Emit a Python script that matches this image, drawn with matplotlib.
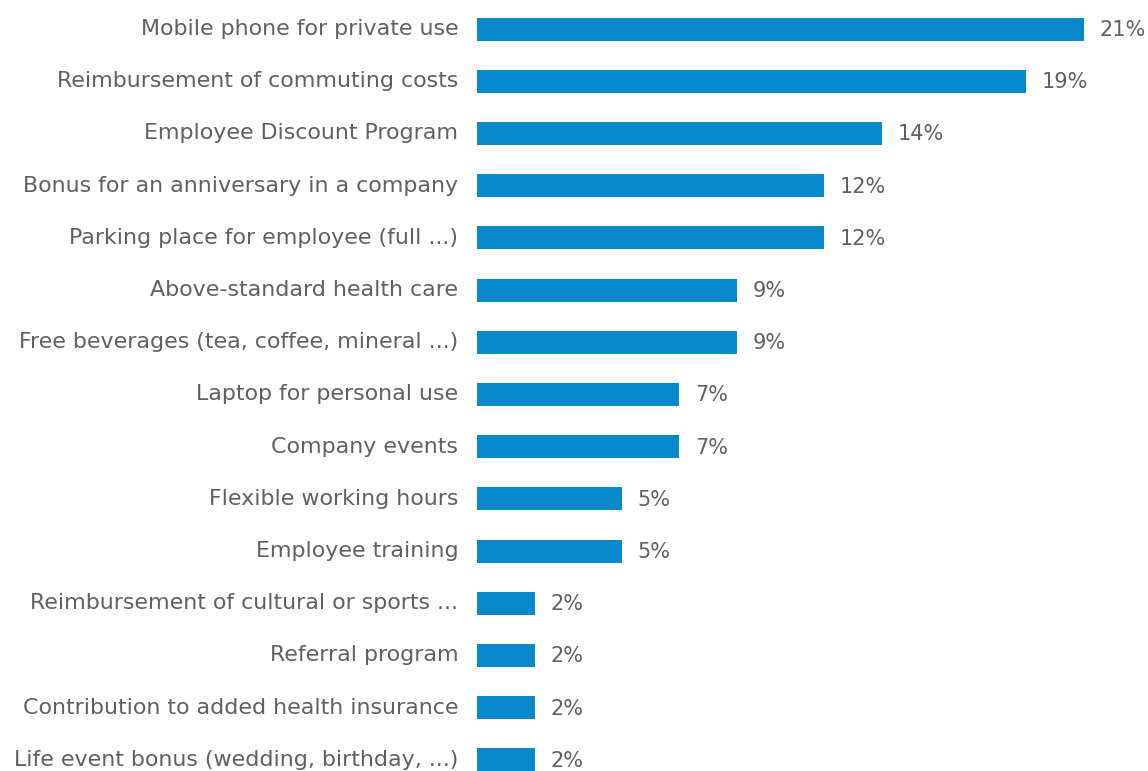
import matplotlib
matplotlib.use("Agg")
import matplotlib.pyplot as plt
import numpy as np

categories = [
    "Mobile phone for private use",
    "Reimbursement of commuting costs",
    "Employee Discount Program",
    "Bonus for an anniversary in a company",
    "Parking place for employee (full ...)",
    "Above-standard health care",
    "Free beverages (tea, coffee, mineral ...)",
    "Laptop for personal use",
    "Company events",
    "Flexible working hours",
    "Employee training",
    "Reimbursement of cultural or sports ...",
    "Referral program",
    "Contribution to added health insurance",
    "Life event bonus (wedding, birthday, ...)",
]
values = [21, 19, 14, 12, 12, 9, 9, 7, 7, 5, 5, 2, 2, 2, 2]

W, H = 1148, 771
fig = plt.figure(figsize=(W / 100, H / 100), dpi=100)
left_px = 477
ax = fig.add_axes([left_px / W, 0, 1 - left_px / W, 1])

px_per_unit = 28.9
row_px = 52.2
top_px = 29

y = np.arange(len(categories))
bar_h = 23 / row_px
ax.barh(y, values, height=bar_h, color="#0a88cc", edgecolor="none")

ax.set_xlim(0, (W - left_px) / px_per_unit)
ax.set_ylim((H - top_px) / row_px, -top_px / row_px)

for yi, v in zip(y, values):
    ax.annotate(f"{v}%", xy=(v, yi), xytext=(16, -1), textcoords="offset pixels",
                ha="left", va="center", fontsize=15, color="#606060")

ax.set_yticks(y)
ax.set_yticklabels(categories, fontsize=15.9, color="#606060", va="center")
ax.tick_params(axis="y", length=0, pad=13.5)
ax.set_xticks([])
for s in ax.spines.values():
    s.set_visible(False)

fig.savefig("out.png", dpi=100)
